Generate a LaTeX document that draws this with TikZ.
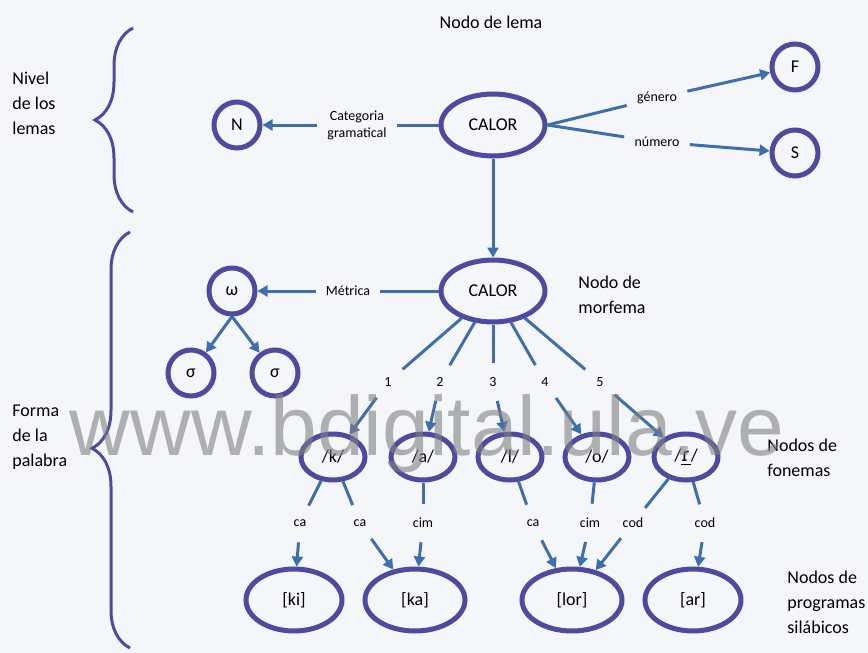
\documentclass[tikz,border=0pt]{standalone}
\usepackage{fontspec}
\setmainfont{Carlito}
\newfontfamily\ipafont{DejaVu Sans}
\newfontfamily\marcafont{Liberation Sans}
\usetikzlibrary{positioning,arrows.meta,shapes.geometric,decorations.pathreplacing}

\definecolor{fondo}{RGB}{245,246,250}
\definecolor{trazo}{RGB}{60,112,172}
\definecolor{borde}{RGB}{78,74,160}

\begin{document}
\begin{tikzpicture}[x=0.5pt, y=-0.5pt,
        elipse/.style={ellipse, draw=borde, line width=2.5pt, inner sep=0pt, font=\fontsize{9}{10}\selectfont},
        lema/.style={elipse, minimum width=52pt, minimum height=31pt},
        hoja/.style={elipse, circle, minimum size=23pt},
        fonema/.style={elipse, minimum width=32pt, minimum height=23pt},
        silaba/.style={elipse, minimum width=48pt, minimum height=31pt},
        rotulo/.style={font=\fontsize{7}{8.5}\selectfont, align=center, inner sep=5pt},
        sello/.style={font=\fontsize{7}{8}\selectfont, circle, minimum size=19pt, inner sep=1pt},
        texto/.style={font=\fontsize{9}{12.5}\selectfont, align=left, anchor=west, inner sep=0pt},
        linea/.style={draw=trazo, line width=1.5pt},
        flecha/.style={linea, ->},
        llave/.style={draw=borde, line width=1.5pt, decorate},
        marca/.style={font=\marcafont\fontsize{42}{42}\selectfont, text=black!50, text opacity=0.6, anchor=base, inner sep=0pt},
        >={Triangle[length=5pt,width=5.5pt]}, on grid]
        \fill[fondo] (0,0) rectangle (868,653);

        % nivel de los lemas
        \node[lema] (lema) at (493,125) {CALOR};
        \node[hoja, left=128pt of lema] (N) {N};
        \node[hoja, above right=29pt and 151pt of lema] (F) {F};
        \node[hoja, below right=14pt and 151pt of lema] (S) {S};
        \node[rotulo, left=68pt of lema] (cat) {Categoria\\gramatical};
        \node[rotulo, above right=13.5pt and 82pt of lema] (gen) {género};
        \node[rotulo, below right=8.5pt and 82pt of lema] (num) {número};

        % forma de la palabra
        \node[lema, below=83pt of lema] (morf) {CALOR};
        \node[rotulo, left=72.5pt of morf] (metr) {Métrica};
        \node[hoja, left=130.5pt of morf] (omega) {ω};
        \node[hoja, below left=41pt and 20.5pt of omega] (sig1) {σ};
        \node[hoja, below right=41pt and 21.5pt of omega] (sig2) {σ};

        \node[sello, below=45.5pt of morf] (n3) {3};
        \node[sello, left=26.5pt of n3] (n2) {2};
        \node[sello, left=26pt of n2] (n1) {1};
        \node[sello, right=26pt of n3] (n4) {4};
        \node[sello, right=27.5pt of n4] (n5) {5};

        \node[fonema, below right=83pt and 8.5pt of morf] (fl) {/l/};
        \node[fonema, left=43.5pt of fl] (fa) {/a/};
        \node[fonema, left=45pt of fa] (fk) {/k/};
        \node[fonema, right=43.5pt of fl] (fo) {/o/};
        \node[fonema, right=44.5pt of fo] (fr) {/{\ipafont\underline{ɾ}}/};

        \node[silaba, below left=71.5pt and 19.5pt of fk] (ki) {[ki]};
        \node[silaba, minimum width=50pt, below left=71.5pt and 4pt of fa] (ka) {[ka]};
        \node[silaba, minimum width=50pt, below left=71.5pt and 12.5pt of fo] (lor) {[lor]};
        \node[silaba, below right=71.5pt and 3.5pt of fr] (ar) {[ar]};

        \node[sello, below left=33pt and 16.5pt of fk] (e1) {ca};
        \node[sello, below right=33pt and 13.5pt of fk] (e2) {ca};
        \node[sello, below=33pt of fa] (e3) {cim};
        \node[sello, below right=33pt and 11.5pt of fl] (e4) {ca};
        \node[sello, below left=33pt and 3.5pt of fo] (e5) {cim};
        \node[sello, below left=33pt and 26.5pt of fr] (e6) {cod};
        \node[sello, below right=33pt and 9.5pt of fr] (e7) {cod};

        % textos sueltos
        \node[texto, anchor=center] (tlema) at (491,22) {Nodo de lema};
        \node[texto] (tmorf) at (578,295) {Nodo de\\morfema};
        \node[texto] (tfon) at (767,458) {Nodos de\\fonemas};
        \node[texto] (tsil) at (787,602) {Nodos de\\programas\\silábicos};
        \node[texto] (nivel) at (12,103) {Nivel\\de los\\lemas};
        \node[texto] (forma) at (12,437) {Forma\\de la\\palabra};

        \draw[llave, decoration={brace, amplitude=19pt}] (133,212) -- (133,28);
        \draw[llave, decoration={brace, amplitude=19pt, aspect=0.48}] (130,648) -- (130,232);

        \draw[linea] (lema) -- (cat);
        \draw[flecha] (cat) -- (N);
        \draw[linea] (lema.east) -- (gen);
        \draw[flecha] (gen) -- (F);
        \draw[linea] (lema.east) -- (num);
        \draw[flecha] (num) -- (S);
        \draw[flecha] (lema) -- (morf);
        \draw[linea] (morf) -- (metr);
        \draw[flecha] (metr) -- (omega);
        \draw[flecha] (omega.south) -- (sig1);
        \draw[flecha] (omega.south) -- (sig2);
        \foreach \i/\f in {1/fk,2/fa,3/fl,4/fo,5/fr}{
            \draw[linea] (morf) -- (n\i);
            \draw[flecha] (n\i) -- (\f);
        }
        \foreach \a/\e/\b in {fk/e1/ki, fk/e2/ka, fa/e3/ka, fl/e4/lor, fo/e5/lor, fr/e6/lor, fr/e7/ar}{
            \draw[linea] (\a) -- (\e);
            \draw[flecha] (\e) -- (\b);
        }

        \node[marca] (web) at (427,455) {www.bdigital.ula.ve};
    \end{tikzpicture}
\end{document}
